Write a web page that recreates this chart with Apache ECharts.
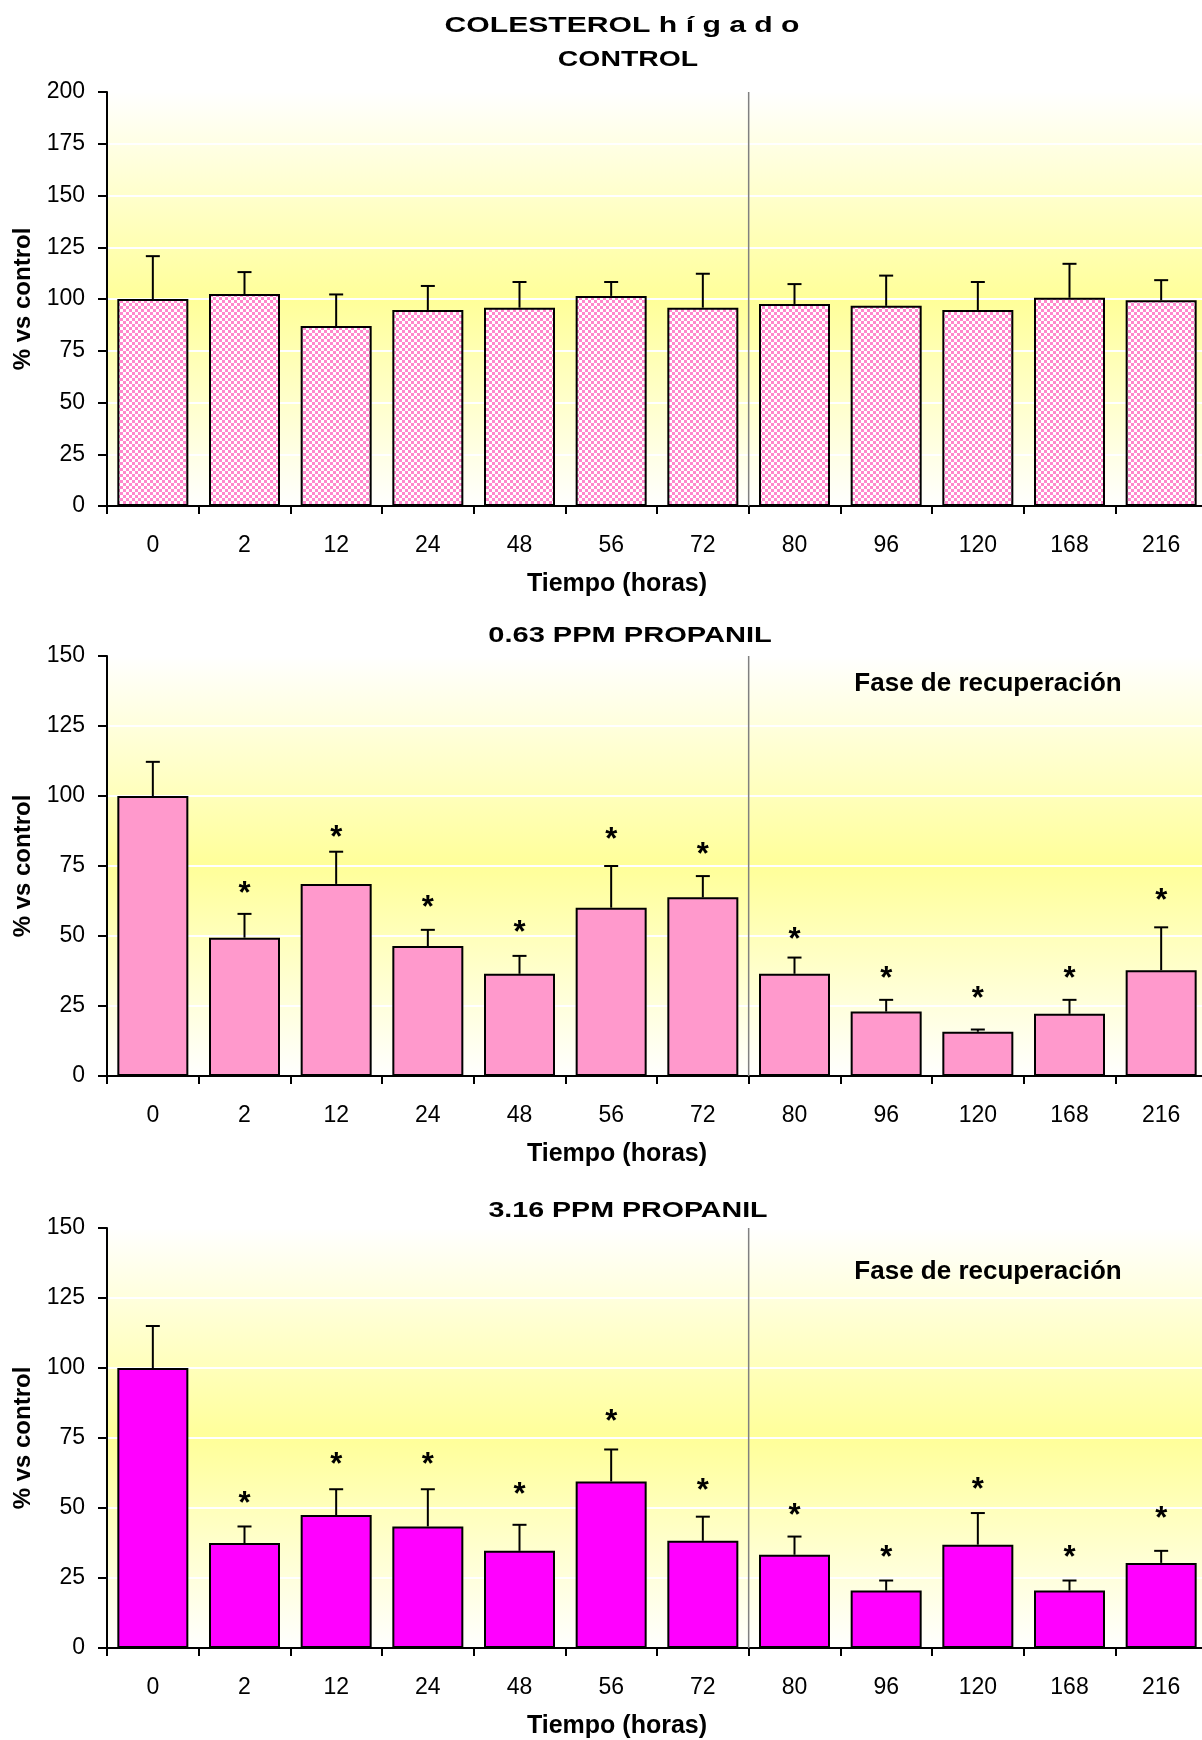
<!DOCTYPE html>
<html>
<head>
<meta charset="utf-8">
<script src="https://cdn.jsdelivr.net/npm/echarts/dist/echarts.min.js"></script>
<style>
html,body{margin:0;padding:0;background:#ffffff;overflow:hidden;}
#c{width:1212px;height:1740px;}
</style>
</head>
<body>
<div id="c"></div>
<script>
// ---------- DATA ----------
const categories = ['0','2','12','24','48','56','72','80','96','120','168','216'];
const yTicksControl = [0, 200, 25];   // min, max, interval
const yTicksPropanil = [0, 150, 25];

const controlMean = [100, 102.4, 86.9, 94.7, 95.8, 101.5, 95.8, 97.6, 96.7, 94.7, 100.6, 99.4];
const controlSD   = [20.7, 10.6, 15.3, 11.6, 12.4, 6.7, 16.4, 9.6, 14.6, 13.5, 16.4, 9.7];

const low063Mean  = [100, 49.4, 68.6, 46.4, 36.5, 60.1, 63.8, 36.5, 23.0, 15.8, 22.2, 37.8];
const low063SD    = [12.2, 8.5, 11.5, 5.8, 6.4, 14.9, 7.6, 5.8, 4.2, 0.8, 5.0, 15.3];
const low063Star  = [null, 66.7, 86.5, 61.6, 52.7, 85.8, 80.4, 50.1, 36.1, 29.1, 36.1, 64.2];

const high316Mean = [100, 37.5, 47.5, 43.4, 34.7, 59.5, 38.3, 33.3, 20.5, 36.9, 20.5, 30.4];
const high316SD   = [15.0, 5.9, 9.2, 13.3, 9.3, 11.4, 8.6, 6.5, 3.6, 11.3, 3.6, 4.3];
const high316Star = [null, 53.0, 67.1, 67.1, 56.3, 82.2, 57.8, 48.6, 33.7, 58.1, 33.7, 47.7];

const phaseBoundary = [6, 7]; // between "72" and "80": recovery phase starts

// ---------- STYLE ----------
const FONT = '"Liberation Sans", Arial, sans-serif';

// checkered pink pattern for control bars
const pat = document.createElement('canvas');
pat.width = 6; pat.height = 6;
const pctx = pat.getContext('2d');
pctx.fillStyle = '#ffffff'; pctx.fillRect(0,0,6,6);
pctx.fillStyle = '#ff88cc';
pctx.fillRect(0,0,3,3); pctx.fillRect(3,3,3,3);

const grids = [
  {left:107, top:92,   width:1100, height:414},
  {left:107, top:656,  width:1100, height:420},
  {left:107, top:1228, width:1100, height:422}
];

function bg() {
  return new echarts.graphic.LinearGradient(0,0,0,1,[
    {offset:0, color:'#ffffff'},
    {offset:0.5, color:'#ffff99'},
    {offset:1, color:'#ffffff'}
  ]);
}

const option = {
  animation: false,
  backgroundColor: '#ffffff',
  textStyle: {fontFamily: FONT},
  grid: grids.map(g => Object.assign({
    show: true, backgroundColor: bg(), borderColor: '#000', borderWidth: 2, containLabel: false
  }, g)),
  xAxis: [0,1,2].map(i => ({
    gridIndex: i, type: 'category', data: categories, boundaryGap: true,
    name: 'Tiempo (horas)', nameLocation: 'middle', nameGap: 66,
    nameTextStyle: {fontSize: 25, fontWeight: 'bold', color: '#000', fontFamily: FONT, padding: [0, 80, 0, 0]},
    axisLine: {show: true, lineStyle: {color: '#000', width: 2}},
    axisTick: {show: true, length: 8, alignWithLabel: false, lineStyle: {color: '#000', width: 2}},
    axisLabel: {fontSize: 23, color: '#000', margin: 28, interval: 0, fontFamily: FONT},
    splitLine: {show: false}
  })),
  yAxis: [yTicksControl, yTicksPropanil, yTicksPropanil].map((t, i) => ({
    gridIndex: i, type: 'value', min: t[0], max: t[1], interval: t[2],
    name: '% vs control', nameLocation: 'middle', nameRotate: 90, nameGap: 72,
    nameTextStyle: {fontSize: 24, fontWeight: 'bold', color: '#000', fontFamily: FONT},
    axisLine: {show: true, lineStyle: {color: '#000', width: 2}},
    axisTick: {show: true, length: 9, lineStyle: {color: '#000', width: 2}},
    axisLabel: {fontSize: 23, color: '#000', margin: 22, fontFamily: FONT},
    splitLine: {show: true, lineStyle: {color: '#ffffff', width: 2}}
  })),
  graphic: [
    {type:'text', x:622, y:26, scaleX:1.37, z:100,
     style:{text:'COLESTEROL h í g a d o', align:'center', verticalAlign:'middle',
            fontSize:22, fontWeight:'bold', fontFamily:FONT, fill:'#000'}},
    {type:'text', x:628, y:60, scaleX:1.29, z:100,
     style:{text:'CONTROL', align:'center', verticalAlign:'middle',
            fontSize:22, fontWeight:'bold', fontFamily:FONT, fill:'#000'}},
    {type:'text', x:630, y:636, scaleX:1.32, z:100,
     style:{text:'0.63 PPM PROPANIL', align:'center', verticalAlign:'middle',
            fontSize:22, fontWeight:'bold', fontFamily:FONT, fill:'#000'}},
    {type:'text', x:628, y:1211, scaleX:1.3, z:100,
     style:{text:'3.16 PPM PROPANIL', align:'center', verticalAlign:'middle',
            fontSize:22, fontWeight:'bold', fontFamily:FONT, fill:'#000'}},
    {type:'text', x:988, y:684, z:100,
     style:{text:'Fase de recuperación', align:'center', verticalAlign:'middle',
            fontSize:26, fontWeight:'bold', fontFamily:FONT, fill:'#000'}},
    {type:'text', x:988, y:1272, z:100,
     style:{text:'Fase de recuperación', align:'center', verticalAlign:'middle',
            fontSize:26, fontWeight:'bold', fontFamily:FONT, fill:'#000'}}
  ],
  series: []
};

const sets = [
  {mean: controlMean, sd: controlSD, star: null, color: {image: pat, repeat: 'repeat'}},
  {mean: low063Mean, sd: low063SD, star: low063Star, color: '#ff99cc'},
  {mean: high316Mean, sd: high316SD, star: high316Star, color: '#ff00ff'}
];

function errRender(params, api) {
  const x = api.value(0), m = api.value(1), sd = api.value(2);
  const p0 = api.coord([x, m]);
  const p1 = api.coord([x, m + sd]);
  const st = {stroke: '#000', lineWidth: 2};
  return {type: 'group', children: [
    {type: 'line', shape: {x1: p0[0], y1: p0[1], x2: p1[0], y2: p1[1]}, style: st},
    {type: 'line', shape: {x1: p1[0] - 7, y1: p1[1], x2: p1[0] + 7, y2: p1[1]}, style: st}
  ]};
}

function starRender(params, api) {
  const p = api.coord([api.value(0), api.value(1)]);
  return {type: 'text', style: {text: '*', x: p[0], y: p[1] + 5, align: 'center', verticalAlign: 'middle',
    fontSize: 31, fontWeight: 'bold', fontFamily: FONT, fill: '#000'}};
}

function sepRender(params, api) {
  const a = api.coord([api.value(0), 0])[0];
  const b = api.coord([api.value(1), 0])[0];
  const x = (a + b) / 2;
  const cs = params.coordSys;
  return {type: 'line', shape: {x1: x, y1: cs.y, x2: x, y2: cs.y + cs.height},
    style: {stroke: '#808080', lineWidth: 1.5}};
}

sets.forEach((s, i) => {
  option.series.push({
    type: 'bar', xAxisIndex: i, yAxisIndex: i, data: s.mean, barWidth: 71,
    itemStyle: {color: s.color, borderColor: '#000', borderWidth: 2}, z: 2
  });
  option.series.push({
    type: 'custom', xAxisIndex: i, yAxisIndex: i, renderItem: errRender, z: 3,
    data: s.mean.map((m, k) => [k, m, s.sd[k]])
  });
  option.series.push({
    type: 'custom', xAxisIndex: i, yAxisIndex: i, renderItem: sepRender, z: 3,
    data: [phaseBoundary]
  });
  if (s.star) {
    option.series.push({
      type: 'custom', xAxisIndex: i, yAxisIndex: i, renderItem: starRender, z: 4,
      data: s.star.map((v, k) => [k, v]).filter(d => d[1] !== null)
    });
  }
});

const chart = echarts.init(document.getElementById('c'), null, {renderer: 'canvas'});
chart.setOption(option);
</script>
</body>
</html>
